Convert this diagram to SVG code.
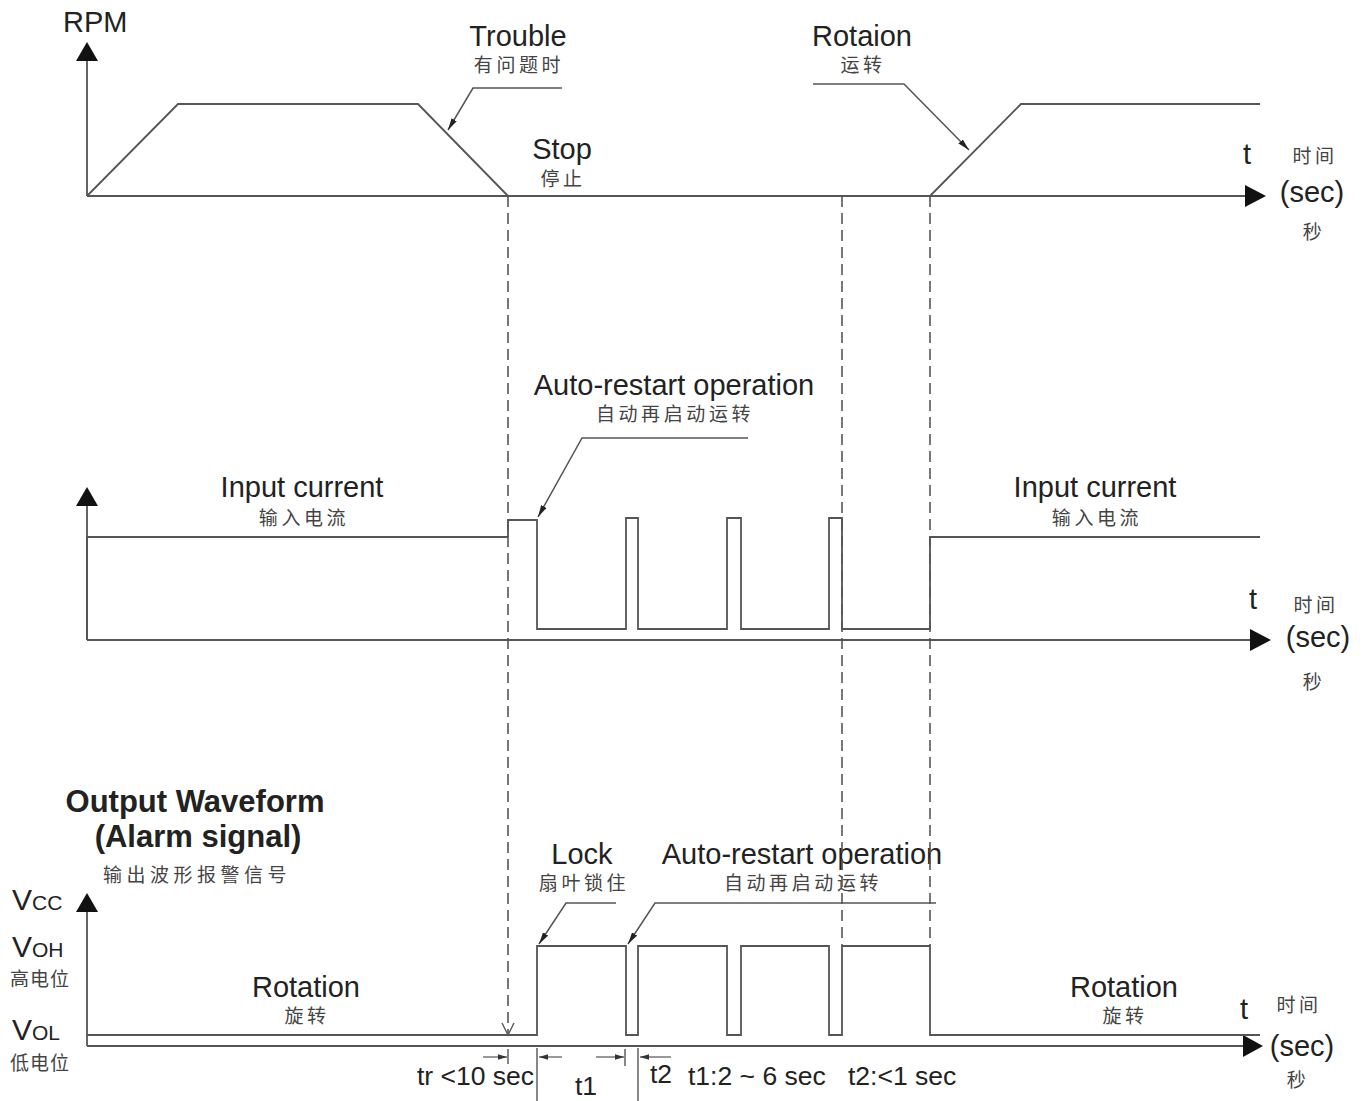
<svg xmlns="http://www.w3.org/2000/svg" width="1362" height="1101" viewBox="0 0 1362 1101">
<defs>
<style>
.ln{fill:none;stroke:#555;stroke-width:1.8;stroke-linejoin:miter}
.dash{fill:none;stroke:#555;stroke-width:1.6;stroke-dasharray:11 6}
.ax{fill:#111}
.en{font-family:"Liberation Sans",Arial,sans-serif;font-size:29px;fill:#222}
.enb{font-family:"Liberation Sans",Arial,sans-serif;font-size:31px;font-weight:bold;fill:#222}
.dim{font-family:"Liberation Sans",Arial,sans-serif;font-size:26.5px;fill:#222}
.cn{font-family:"Noto Sans CJK SC","Noto Sans",sans-serif;font-size:19px;letter-spacing:3.6px;fill:#444}
.v{font-family:"Liberation Sans",Arial,sans-serif;font-size:30px;fill:#222}
.vs{font-size:21px}
.c{text-anchor:middle}
</style>
<marker id="lead" viewBox="0 0 12 6" refX="12" refY="3" markerWidth="12" markerHeight="6" markerUnits="userSpaceOnUse" orient="auto">
<path d="M0,0 L12,3 L0,6 Z" fill="#222"/>
</marker>
<marker id="dimA" viewBox="0 0 10 6" refX="10" refY="3" markerWidth="9" markerHeight="6" markerUnits="userSpaceOnUse" orient="auto">
<path d="M0,0 L10,3 L0,6 Z" fill="#333"/>
</marker>
</defs>
<rect width="1362" height="1101" fill="#fff"/>

<!-- Top chart: RPM -->
<g id="rpm-chart">
<path class="ln" d="M87,196 V58"/>
<polygon class="ax" points="87,42 76,61 98,61"/>
<path class="ln" d="M87,196 H1248"/>
<polygon class="ax" points="1266,196 1245,185 1245,207"/>
<polyline class="ln" points="87,196 178,104 418,104 508,196"/>
<polyline class="ln" points="930,196 1021,104 1260,104"/>
<text class="en" x="63" y="32">RPM</text>
<text class="en c" x="518" y="46">Trouble</text>
<text class="cn c" x="519" y="72">有问题时</text>
<text class="en c" x="562" y="159">Stop</text>
<text class="cn c" x="563" y="186">停止</text>
<text class="en c" x="862" y="46">Rotaion</text>
<text class="cn c" x="863" y="72">运转</text>
<text class="en" x="1243" y="164">t</text>
<text class="cn c" x="1315" y="163">时间</text>
<text class="en c" x="1312" y="202">(sec)</text>
<text class="cn c" x="1314" y="239">秒</text>
</g>

<!-- Middle chart: input current -->
<g id="current-chart">
<path class="ln" d="M87,640 V504"/>
<polygon class="ax" points="87,487 76,506 98,506"/>
<path class="ln" d="M87,640 H1253"/>
<polygon class="ax" points="1271,640 1250,629 1250,651"/>
<polyline class="ln" points="87,640 87,537 508,537"/>
<polyline class="ln" points="508,537 508,520 537,520 537,629 626,629 626,518 638,518 638,629 727,629 727,518 741,518 741,629 829,629 829,518 842,518 842,629 930,629 930,537 1260,537"/>
<text class="en c" x="302" y="497">Input current</text>
<text class="cn c" x="304" y="525">输入电流</text>
<text class="en c" x="674" y="395">Auto-restart operation</text>
<text class="cn c" x="675" y="421">自动再启动运转</text>
<text class="en c" x="1095" y="497">Input current</text>
<text class="cn c" x="1097" y="525">输入电流</text>
<text class="en" x="1249" y="609">t</text>
<text class="cn c" x="1316" y="612">时间</text>
<text class="en c" x="1318" y="647">(sec)</text>
<text class="cn c" x="1314" y="689">秒</text>
</g>

<!-- Bottom chart: output waveform -->
<g id="output-chart">
<text class="enb c" x="195" y="812">Output Waveform</text>
<text class="enb c" x="198" y="847">(Alarm signal)</text>
<text class="cn c" x="197" y="882" style="letter-spacing:4.5px">输出波形报警信号</text>
<text class="v" x="12" y="910">V<tspan class="vs">CC</tspan></text>
<text class="v" x="12" y="957">V<tspan class="vs">OH</tspan></text>
<text class="cn" x="10" y="986" style="letter-spacing:1px">高电位</text>
<text class="v" x="12" y="1040">V<tspan class="vs">OL</tspan></text>
<text class="cn" x="10" y="1070" style="letter-spacing:1px">低电位</text>
<path class="ln" d="M87,1046 V910"/>
<polygon class="ax" points="87,893 76,912 98,912"/>
<path class="ln" d="M87,1046 H1245"/>
<polygon class="ax" points="1263,1046 1243,1035 1243,1057"/>
<polyline class="ln" points="87,1035 537,1035 537,946 626,946 626,1035 638,1035 638,946 727,946 727,1035 741,1035 741,946 829,946 829,1035 842,1035 842,946 930,946 930,1035 1260,1035"/>
<text class="en c" x="306" y="997">Rotation</text>
<text class="cn c" x="307" y="1023">旋转</text>
<text class="en c" x="1124" y="997">Rotation</text>
<text class="cn c" x="1125" y="1023">旋转</text>
<text class="en c" x="582" y="864">Lock</text>
<text class="cn c" x="584" y="890">扇叶锁住</text>
<text class="en c" x="802" y="864">Auto-restart operation</text>
<text class="cn c" x="803" y="890">自动再启动运转</text>
<text class="en" x="1240" y="1019">t</text>
<text class="cn c" x="1299" y="1012">时间</text>
<text class="en c" x="1302" y="1056">(sec)</text>
<text class="cn c" x="1298" y="1087">秒</text>
</g>

<!-- Timing dimensions -->
<g id="timing">
<path class="ln" d="M508,1049 V1064 M625,1049 V1066 M537,1048 V1101 M638,1048 V1101" style="stroke-width:1.4"/>
<path class="ln" d="M483,1057 H507" style="stroke-width:1.2" marker-end="url(#dimA)"/>
<path class="ln" d="M562,1057 H539" style="stroke-width:1.2" marker-end="url(#dimA)"/>
<path class="ln" d="M596,1057 H624" style="stroke-width:1.2" marker-end="url(#dimA)"/>
<path class="ln" d="M671,1057 H640" style="stroke-width:1.2" marker-end="url(#dimA)"/>
<text class="dim" x="417" y="1085">tr &lt;10 sec</text>
<text class="dim c" x="586" y="1095">t1</text>
<text class="dim" x="650" y="1083">t2</text>
<text class="dim" x="688" y="1085">t1:2 ~ 6 sec</text>
<text class="dim" x="848" y="1085">t2:&lt;1 sec</text>
</g>

<!-- Connectors: leaders and dashed guide lines -->
<g id="connectors">
<path class="dash" d="M508,196 V1033"/>
<path class="ln" d="M502,1023 L508,1035 L514,1023" style="stroke-width:1.4"/>
<path class="dash" d="M842,196 V946"/>
<path class="dash" d="M930,196 V946"/>
<polyline class="ln" style="stroke-width:1.5" points="562,88 473,88 448,130" marker-end="url(#lead)"/>
<polyline class="ln" style="stroke-width:1.5" points="813,84 904,84 969,150" marker-end="url(#lead)"/>
<polyline class="ln" style="stroke-width:1.5" points="748,438 582,438 538,517" marker-end="url(#lead)"/>
<polyline class="ln" style="stroke-width:1.5" points="616,903 566,903 539,944" marker-end="url(#lead)"/>
<polyline class="ln" style="stroke-width:1.5" points="936,903 655,903 628,944" marker-end="url(#lead)"/>
</g>
</svg>
